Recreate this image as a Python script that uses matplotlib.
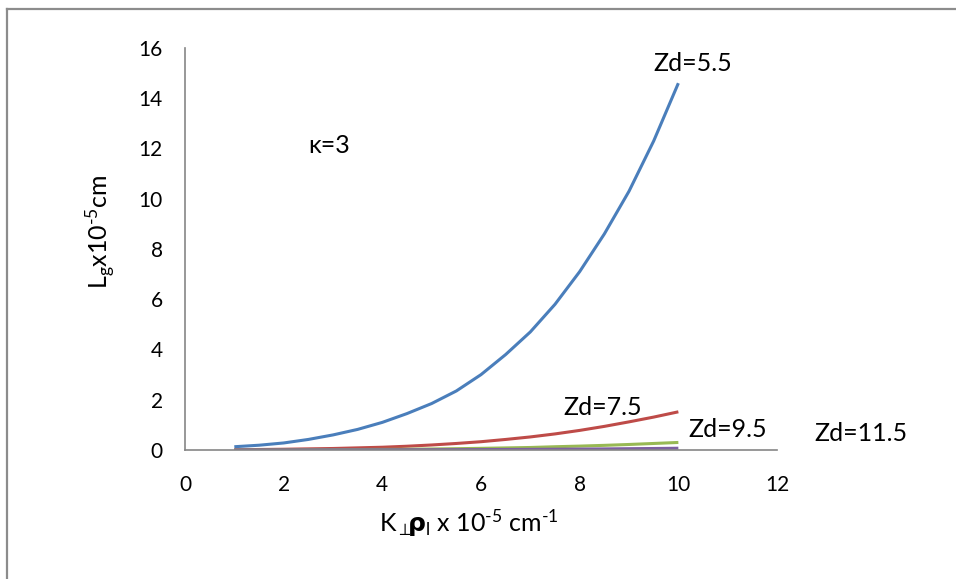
import matplotlib.pyplot as plt
from matplotlib.lines import Line2D

# wave number (x) and curve values for each Zd
k_perp = [1.0, 1.5, 2.0, 2.5, 3.0, 3.5, 4.0, 4.5, 5.0, 5.5,
          6.0, 6.5, 7.0, 7.5, 8.0, 8.5, 9.0, 9.5, 10.0]
lg_zd55 = [0.13, 0.19, 0.28, 0.42, 0.60, 0.82, 1.10, 1.45, 1.85, 2.35,
           3.00, 3.80, 4.70, 5.80, 7.10, 8.60, 10.3, 12.3, 14.6]
lg_zd75 = [0.01, 0.02, 0.03, 0.045, 0.06, 0.085, 0.11, 0.15, 0.20, 0.26,
           0.33, 0.42, 0.52, 0.64, 0.78, 0.94, 1.12, 1.31, 1.52]
lg_zd95 = [0.003, 0.005, 0.007, 0.010, 0.013, 0.018, 0.023, 0.030, 0.040, 0.052,
           0.066, 0.083, 0.100, 0.130, 0.155, 0.185, 0.220, 0.260, 0.300]
lg_zd115 = [0.001, 0.001, 0.002, 0.003, 0.004, 0.005, 0.006, 0.008, 0.010, 0.013,
            0.016, 0.020, 0.025, 0.031, 0.037, 0.044, 0.052, 0.060, 0.070]

series = [
    (lg_zd55, "#4A7EBB"),
    (lg_zd75, "#BE4B48"),
    (lg_zd95, "#98B954"),
    (lg_zd115, "#7D60A0"),
]

plt.rcParams['font.family'] = ['Lato', 'DejaVu Sans']
plt.rcParams['mathtext.fontset'] = 'custom'
plt.rcParams['mathtext.rm'] = 'Lato'
plt.rcParams['mathtext.it'] = 'Lato:italic'
plt.rcParams['mathtext.bf'] = 'DejaVu Sans:bold'

fig = plt.figure(figsize=(9.56, 5.79), dpi=100)
ax = fig.add_axes([0.1935, 0.2228, 0.6193, 0.6943])

for vals, col in series:
    ax.plot(k_perp, vals, color=col, lw=2.2, solid_capstyle='butt')

ax.set_xlim(0, 12)
ax.set_ylim(0, 16)
ax.set_xticks(range(0, 13, 2))
ax.set_yticks(range(0, 17, 2))
ax.tick_params(length=0, labelsize=15)
ax.tick_params(axis='y', pad=16)
ax.tick_params(axis='x', pad=18)
for side in ['top', 'right']:
    ax.spines[side].set_visible(False)
for side in ['left', 'bottom']:
    ax.spines[side].set_color('#868686')
    ax.spines[side].set_linewidth(1.2)

# axis titles
fig.text(0.105, 0.60, r'L$_{\rm g}$x10$^{\text{-5}}$cm', fontsize=18,
         rotation=90, ha='center', va='center')
fig.text(0.49, 0.097, r'K$_\perp\!\!\mathbf{\rho}_{\rm l}$ x 10$^{\text{-5}}$ cm$^{\text{-1}}$',
         fontsize=18, ha='center', va='center')

# curve labels
ax.text(9.49, 15.1, 'Zd=5.5', fontsize=18, va='baseline')
ax.text(7.66, 1.39, 'Zd=7.5', fontsize=18, va='baseline')
ax.text(10.2, 0.52, 'Zd=9.5', fontsize=18, va='baseline')
ax.text(12.75, 0.36, 'Zd=11.5', fontsize=18, va='baseline')
ax.text(2.49, 11.83, 'κ=3', fontsize=18, va='baseline')

# outer frame
frame_col = '#8c8c8c'
fig.add_artist(Line2D([0.0073, 0.0073], [0.0, 0.984], transform=fig.transFigure,
                      color=frame_col, lw=1.6))
fig.add_artist(Line2D([0.0073, 1.0], [0.984, 0.984], transform=fig.transFigure,
                      color=frame_col, lw=1.6))

fig.savefig('out.png', dpi=100)
